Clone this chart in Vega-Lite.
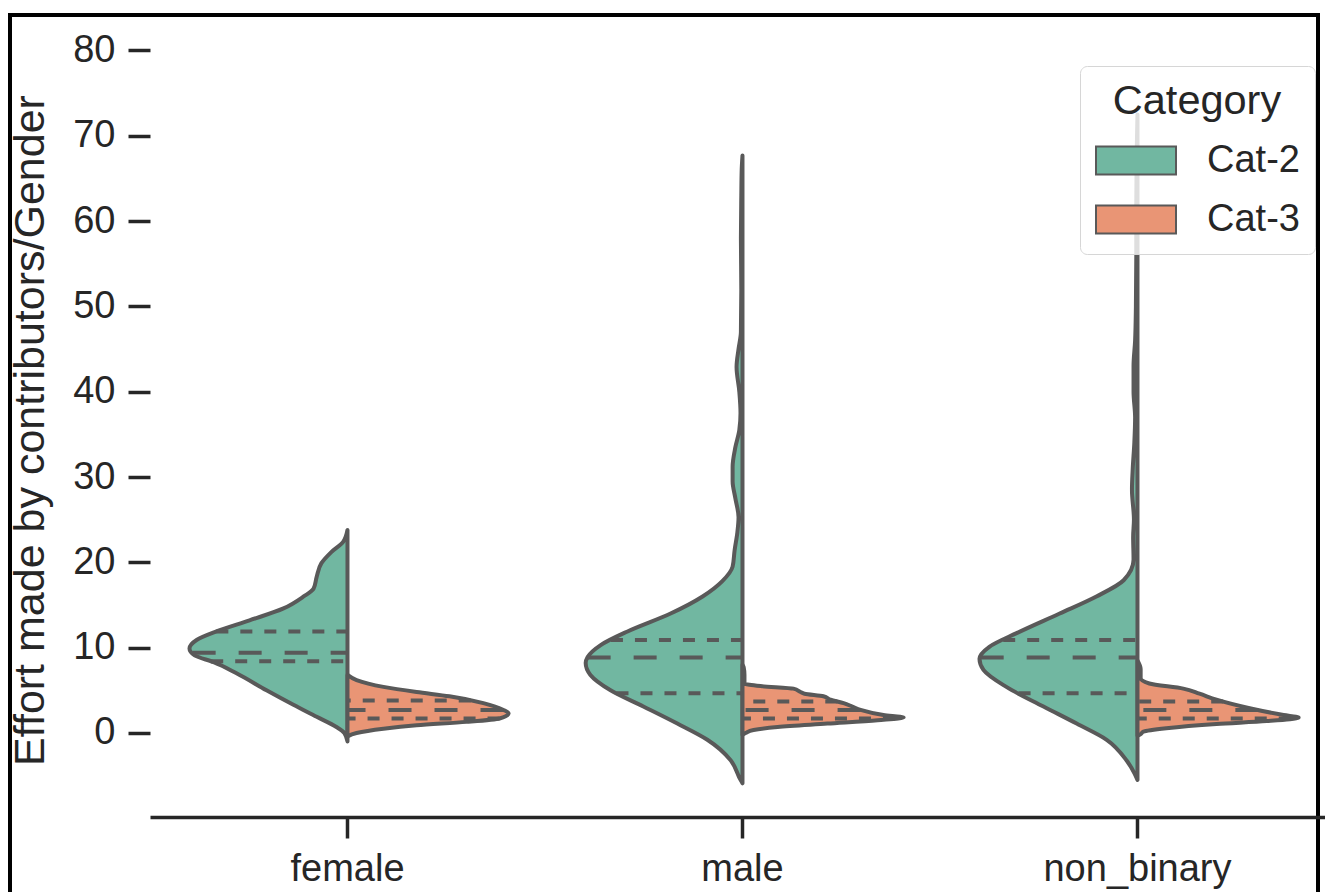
{
  "$schema": "https://vega.github.io/schema/vega-lite/v6.json",
  "width": 1308,
  "height": 885,
  "autosize": {"type": "none"},
  "padding": {"left": 10, "top": 15, "right": 7, "bottom": -8},
  "background": "#ffffff",
  "config": {
    "font": "Liberation Sans",
    "view": {"stroke": "#000000", "strokeWidth": 4},
    "axis": {"grid": false, "labelFont": "Liberation Sans", "titleFont": "Liberation Sans"},
    "legend": {"labelFont": "Liberation Sans", "titleFont": "Liberation Sans"}
  },
  "datasets": {
    "genders": [{"g": "female"}, {"g": "male"}, {"g": "non_binary"}],
    "density": [
      {"g":"female","c":"Cat-2","y":-1.0,"w":0},{"g":"female","c":"Cat-2","y":0.0,"w":-0.008},{"g":"female","c":"Cat-2","y":0.7,"w":-0.028},{"g":"female","c":"Cat-2","y":1.9,"w":-0.078},{"g":"female","c":"Cat-2","y":3.3,"w":-0.137},{"g":"female","c":"Cat-2","y":5.0,"w":-0.205},{"g":"female","c":"Cat-2","y":7.0,"w":-0.281},{"g":"female","c":"Cat-2","y":8.3,"w":-0.339},{"g":"female","c":"Cat-2","y":9.1,"w":-0.387},{"g":"female","c":"Cat-2","y":9.9,"w":-0.4},{"g":"female","c":"Cat-2","y":10.9,"w":-0.382},{"g":"female","c":"Cat-2","y":11.9,"w":-0.332},{"g":"female","c":"Cat-2","y":13.2,"w":-0.248},{"g":"female","c":"Cat-2","y":14.6,"w":-0.162},{"g":"female","c":"Cat-2","y":16.0,"w":-0.111},{"g":"female","c":"Cat-2","y":16.9,"w":-0.086},{"g":"female","c":"Cat-2","y":18.3,"w":-0.078},{"g":"female","c":"Cat-2","y":19.9,"w":-0.066},{"g":"female","c":"Cat-2","y":21.2,"w":-0.041},{"g":"female","c":"Cat-2","y":22.4,"w":-0.011},{"g":"female","c":"Cat-2","y":23.8,"w":0},
      {"g":"female","c":"Cat-3","y":-0.4,"w":0},{"g":"female","c":"Cat-3","y":0.0,"w":0.023},{"g":"female","c":"Cat-3","y":0.5,"w":0.091},{"g":"female","c":"Cat-3","y":0.9,"w":0.175},{"g":"female","c":"Cat-3","y":1.3,"w":0.301},{"g":"female","c":"Cat-3","y":1.7,"w":0.385},{"g":"female","c":"Cat-3","y":2.3,"w":0.408},{"g":"female","c":"Cat-3","y":2.7,"w":0.395},{"g":"female","c":"Cat-3","y":3.5,"w":0.344},{"g":"female","c":"Cat-3","y":4.3,"w":0.258},{"g":"female","c":"Cat-3","y":4.8,"w":0.175},{"g":"female","c":"Cat-3","y":5.4,"w":0.091},{"g":"female","c":"Cat-3","y":6.2,"w":0.023},{"g":"female","c":"Cat-3","y":6.8,"w":0},
      {"g":"male","c":"Cat-2","y":-5.9,"w":0},{"g":"male","c":"Cat-2","y":-5.5,"w":-0.005},{"g":"male","c":"Cat-2","y":-3.2,"w":-0.03},{"g":"male","c":"Cat-2","y":-0.8,"w":-0.089},{"g":"male","c":"Cat-2","y":1.1,"w":-0.165},{"g":"male","c":"Cat-2","y":3.1,"w":-0.251},{"g":"male","c":"Cat-2","y":5.0,"w":-0.334},{"g":"male","c":"Cat-2","y":6.8,"w":-0.385},{"g":"male","c":"Cat-2","y":8.2,"w":-0.397},{"g":"male","c":"Cat-2","y":8.9,"w":-0.392},{"g":"male","c":"Cat-2","y":10.3,"w":-0.359},{"g":"male","c":"Cat-2","y":11.9,"w":-0.291},{"g":"male","c":"Cat-2","y":14.0,"w":-0.182},{"g":"male","c":"Cat-2","y":16.0,"w":-0.101},{"g":"male","c":"Cat-2","y":17.8,"w":-0.051},{"g":"male","c":"Cat-2","y":19.5,"w":-0.025},{"g":"male","c":"Cat-2","y":21.4,"w":-0.02},{"g":"male","c":"Cat-2","y":23.5,"w":-0.013},{"g":"male","c":"Cat-2","y":25.3,"w":-0.01},{"g":"male","c":"Cat-2","y":27.5,"w":-0.018},{"g":"male","c":"Cat-2","y":29.5,"w":-0.025},{"g":"male","c":"Cat-2","y":31.2,"w":-0.025},{"g":"male","c":"Cat-2","y":33.5,"w":-0.018},{"g":"male","c":"Cat-2","y":35.5,"w":-0.008},{"g":"male","c":"Cat-2","y":37.5,"w":-0.005},{"g":"male","c":"Cat-2","y":40,"w":-0.008},{"g":"male","c":"Cat-2","y":42.9,"w":-0.015},{"g":"male","c":"Cat-2","y":45,"w":-0.01},{"g":"male","c":"Cat-2","y":47,"w":-0.004},{"g":"male","c":"Cat-2","y":52,"w":-0.003},{"g":"male","c":"Cat-2","y":58,"w":-0.004},{"g":"male","c":"Cat-2","y":63,"w":-0.003},{"g":"male","c":"Cat-2","y":66,"w":-0.002},{"g":"male","c":"Cat-2","y":67.7,"w":0},
      {"g":"male","c":"Cat-3","y":-0.2,"w":0},{"g":"male","c":"Cat-3","y":0.0,"w":0.008},{"g":"male","c":"Cat-3","y":0.35,"w":0.028},{"g":"male","c":"Cat-3","y":0.7,"w":0.089},{"g":"male","c":"Cat-3","y":1.1,"w":0.215},{"g":"male","c":"Cat-3","y":1.5,"w":0.342},{"g":"male","c":"Cat-3","y":1.8,"w":0.408},{"g":"male","c":"Cat-3","y":2.1,"w":0.357},{"g":"male","c":"Cat-3","y":2.7,"w":0.299},{"g":"male","c":"Cat-3","y":3.1,"w":0.278},{"g":"male","c":"Cat-3","y":3.5,"w":0.256},{"g":"male","c":"Cat-3","y":3.9,"w":0.223},{"g":"male","c":"Cat-3","y":4.3,"w":0.205},{"g":"male","c":"Cat-3","y":4.6,"w":0.157},{"g":"male","c":"Cat-3","y":4.8,"w":0.147},{"g":"male","c":"Cat-3","y":5.2,"w":0.129},{"g":"male","c":"Cat-3","y":5.5,"w":0.046},{"g":"male","c":"Cat-3","y":5.8,"w":0.005},{"g":"male","c":"Cat-3","y":6.8,"w":0.005},{"g":"male","c":"Cat-3","y":7.7,"w":0.003},{"g":"male","c":"Cat-3","y":8.0,"w":0},
      {"g":"non_binary","c":"Cat-2","y":-5.5,"w":0},{"g":"non_binary","c":"Cat-2","y":-4.7,"w":-0.008},{"g":"non_binary","c":"Cat-2","y":-3.2,"w":-0.028},{"g":"non_binary","c":"Cat-2","y":-0.8,"w":-0.078},{"g":"non_binary","c":"Cat-2","y":1.1,"w":-0.154},{"g":"non_binary","c":"Cat-2","y":3.1,"w":-0.238},{"g":"non_binary","c":"Cat-2","y":5.4,"w":-0.332},{"g":"non_binary","c":"Cat-2","y":7.4,"w":-0.39},{"g":"non_binary","c":"Cat-2","y":8.7,"w":-0.4},{"g":"non_binary","c":"Cat-2","y":10.1,"w":-0.375},{"g":"non_binary","c":"Cat-2","y":11.7,"w":-0.306},{"g":"non_binary","c":"Cat-2","y":14.0,"w":-0.197},{"g":"non_binary","c":"Cat-2","y":16.0,"w":-0.104},{"g":"non_binary","c":"Cat-2","y":17.9,"w":-0.035},{"g":"non_binary","c":"Cat-2","y":20.3,"w":-0.01},{"g":"non_binary","c":"Cat-2","y":23,"w":-0.011},{"g":"non_binary","c":"Cat-2","y":25,"w":-0.009},{"g":"non_binary","c":"Cat-2","y":28.5,"w":-0.014},{"g":"non_binary","c":"Cat-2","y":31,"w":-0.012},{"g":"non_binary","c":"Cat-2","y":34,"w":-0.008},{"g":"non_binary","c":"Cat-2","y":37,"w":-0.006},{"g":"non_binary","c":"Cat-2","y":40,"w":-0.01},{"g":"non_binary","c":"Cat-2","y":43,"w":-0.01},{"g":"non_binary","c":"Cat-2","y":46,"w":-0.006},{"g":"non_binary","c":"Cat-2","y":50,"w":-0.004},{"g":"non_binary","c":"Cat-2","y":56,"w":-0.003},{"g":"non_binary","c":"Cat-2","y":62,"w":-0.003},{"g":"non_binary","c":"Cat-2","y":68,"w":-0.002},{"g":"non_binary","c":"Cat-2","y":72.5,"w":0},
      {"g":"non_binary","c":"Cat-3","y":-0.3,"w":0},{"g":"non_binary","c":"Cat-3","y":-0.2,"w":0.006},{"g":"non_binary","c":"Cat-3","y":0.15,"w":0.015},{"g":"non_binary","c":"Cat-3","y":0.55,"w":0.073},{"g":"non_binary","c":"Cat-3","y":1.05,"w":0.2},{"g":"non_binary","c":"Cat-3","y":1.4,"w":0.327},{"g":"non_binary","c":"Cat-3","y":1.8,"w":0.408},{"g":"non_binary","c":"Cat-3","y":2.1,"w":0.37},{"g":"non_binary","c":"Cat-3","y":2.9,"w":0.284},{"g":"non_binary","c":"Cat-3","y":3.9,"w":0.2},{"g":"non_binary","c":"Cat-3","y":4.6,"w":0.157},{"g":"non_binary","c":"Cat-3","y":5.2,"w":0.116},{"g":"non_binary","c":"Cat-3","y":5.8,"w":0.03},{"g":"non_binary","c":"Cat-3","y":6.4,"w":0.008},{"g":"non_binary","c":"Cat-3","y":7.5,"w":0.008},{"g":"non_binary","c":"Cat-3","y":8.5,"w":0}
    ],
    "quart": [
      {"g":"female","c":"Cat-2","stat":"q25","y":8.4,"w":-0.345},{"g":"female","c":"Cat-2","stat":"median","y":9.4,"w":-0.392},{"g":"female","c":"Cat-2","stat":"q75","y":11.9,"w":-0.332},
      {"g":"female","c":"Cat-3","stat":"q25","y":1.7,"w":0.385},{"g":"female","c":"Cat-3","stat":"median","y":2.7,"w":0.395},{"g":"female","c":"Cat-3","stat":"q75","y":3.8,"w":0.312},
      {"g":"male","c":"Cat-2","stat":"q25","y":4.65,"w":-0.319},{"g":"male","c":"Cat-2","stat":"median","y":8.85,"w":-0.392},{"g":"male","c":"Cat-2","stat":"q75","y":10.9,"w":-0.333},
      {"g":"male","c":"Cat-3","stat":"q25","y":1.7,"w":0.386},{"g":"male","c":"Cat-3","stat":"median","y":2.7,"w":0.299},{"g":"male","c":"Cat-3","stat":"q75","y":3.7,"w":0.24},
      {"g":"non_binary","c":"Cat-2","stat":"q25","y":4.65,"w":-0.301},{"g":"non_binary","c":"Cat-2","stat":"median","y":8.85,"w":-0.397},{"g":"non_binary","c":"Cat-2","stat":"q75","y":10.9,"w":-0.34},
      {"g":"non_binary","c":"Cat-3","stat":"q25","y":1.7,"w":0.388},{"g":"non_binary","c":"Cat-3","stat":"median","y":2.7,"w":0.306},{"g":"non_binary","c":"Cat-3","stat":"q75","y":3.7,"w":0.217}
    ]
  },
  "layer": [
    {
      "data": {"name": "genders"},
      "mark": {"type": "point", "opacity": 0},
      "encoding": {
        "x": {"field": "g", "type": "nominal", "sort": ["female", "male", "non_binary"],
          "scale": {"type": "band", "range": [140, 1325], "paddingInner": 0, "paddingOuter": 0},
          "axis": {"title": null, "orient": "bottom", "offset": -83, "bandPosition": 0.5, "labelAngle": 0, "labelLimit": 0, "labelFontSize": 38, "labelColor": "#262626", "labelPadding": 12, "tickSize": 21, "tickWidth": 3.5, "tickColor": "#262626", "domainColor": "#262626", "domainWidth": 3.5}}
      }
    },
    {
      "encoding": {
        "x": {"field": "w", "type": "quantitative", "stack": null, "scale": {"domain": [-0.8544, 2.457], "nice": false, "zero": false}, "axis": null},
        "y": {"field": "y", "type": "quantitative", "scale": {"domain": [-19.58, 84.16], "nice": false, "zero": false},
          "axis": {"values": [0,10,20,30,40,50,60,70,80], "offset": -140, "domain": false, "grid": false, "tickSize": 22, "tickWidth": 3.5, "tickColor": "#262626", "labelFontSize": 38, "labelColor": "#262626", "labelPadding": 13, "title": "Effort made by contributors/Gender", "titleFontSize": 43, "titleFontWeight": "normal", "titleColor": "#262626", "titleX": -107, "titleY": 415, "titleAngle": 270, "titleAlign": "center", "titleBaseline": "alphabetic"}}
      },
      "layer": [
        {"data": {"name": "density"}, "transform": [{"filter": "datum.g === 'female'"}],
          "mark": {"type": "area", "orient": "horizontal", "interpolate": "monotone", "stroke": "#595959", "strokeWidth": 4, "strokeJoin": "round", "opacity": 1},
          "encoding": {"x2": {"datum": 0},
            "color": {"field": "c", "type": "nominal", "title": "Category", "scale": {"domain": ["Cat-2", "Cat-3"], "range": ["#71b7a1", "#e99575"]},
              "legend": {"orient": "none", "legendX": 1070, "legendY": 51, "titleFontSize": 41.5, "titleFontWeight": "normal", "titleColor": "#262626", "titleAnchor": "middle", "titlePadding": 17, "labelFontSize": 38, "labelColor": "#262626", "labelOffset": 70, "symbolType": "M-1,-0.7L3,-0.7L3,0.7L-1,0.7Z", "symbolSize": 1600, "symbolStrokeColor": "#595959", "symbolStrokeWidth": 2, "symbolOpacity": 1, "rowPadding": 19, "padding": 15, "strokeColor": "#d6d6d6", "fillColor": "rgba(255,255,255,0.8)", "cornerRadius": 7}}}},
        {"data": {"name": "quart"}, "transform": [{"filter": "datum.g === 'female'"}],
          "mark": {"type": "rule", "stroke": "#595959", "strokeWidth": 4},
          "encoding": {"x2": {"datum": 0},
            "strokeDash": {"field": "stat", "type": "nominal", "scale": {"domain": ["q25", "median", "q75"], "range": [[12, 12], [23, 23], [12, 12]]}, "legend": null}}}
      ]
    },
    {
      "encoding": {
        "x": {"field": "w", "type": "quantitative", "stack": null, "scale": {"domain": [-1.8544, 1.457], "nice": false, "zero": false}, "axis": null},
        "y": {"field": "y", "type": "quantitative", "scale": {"domain": [-19.58, 84.16], "nice": false, "zero": false},
          "axis": {"values": [0,10,20,30,40,50,60,70,80], "offset": -140, "domain": false, "grid": false, "tickSize": 22, "tickWidth": 3.5, "tickColor": "#262626", "labelFontSize": 38, "labelColor": "#262626", "labelPadding": 13, "title": "Effort made by contributors/Gender", "titleFontSize": 43, "titleFontWeight": "normal", "titleColor": "#262626", "titleX": -107, "titleY": 415, "titleAngle": 270, "titleAlign": "center", "titleBaseline": "alphabetic"}}
      },
      "layer": [
        {"data": {"name": "density"}, "transform": [{"filter": "datum.g === 'male'"}],
          "mark": {"type": "area", "orient": "horizontal", "interpolate": "monotone", "stroke": "#595959", "strokeWidth": 4, "strokeJoin": "round", "opacity": 1},
          "encoding": {"x2": {"datum": 0},
            "color": {"field": "c", "type": "nominal", "title": "Category", "scale": {"domain": ["Cat-2", "Cat-3"], "range": ["#71b7a1", "#e99575"]},
              "legend": {"orient": "none", "legendX": 1070, "legendY": 51, "titleFontSize": 41.5, "titleFontWeight": "normal", "titleColor": "#262626", "titleAnchor": "middle", "titlePadding": 17, "labelFontSize": 38, "labelColor": "#262626", "labelOffset": 70, "symbolType": "M-1,-0.7L3,-0.7L3,0.7L-1,0.7Z", "symbolSize": 1600, "symbolStrokeColor": "#595959", "symbolStrokeWidth": 2, "symbolOpacity": 1, "rowPadding": 19, "padding": 15, "strokeColor": "#d6d6d6", "fillColor": "rgba(255,255,255,0.8)", "cornerRadius": 7}}}},
        {"data": {"name": "quart"}, "transform": [{"filter": "datum.g === 'male'"}],
          "mark": {"type": "rule", "stroke": "#595959", "strokeWidth": 4},
          "encoding": {"x2": {"datum": 0},
            "strokeDash": {"field": "stat", "type": "nominal", "scale": {"domain": ["q25", "median", "q75"], "range": [[12, 12], [23, 23], [12, 12]]}, "legend": null}}}
      ]
    },
    {
      "encoding": {
        "x": {"field": "w", "type": "quantitative", "stack": null, "scale": {"domain": [-2.8544, 0.457], "nice": false, "zero": false}, "axis": null},
        "y": {"field": "y", "type": "quantitative", "scale": {"domain": [-19.58, 84.16], "nice": false, "zero": false},
          "axis": {"values": [0,10,20,30,40,50,60,70,80], "offset": -140, "domain": false, "grid": false, "tickSize": 22, "tickWidth": 3.5, "tickColor": "#262626", "labelFontSize": 38, "labelColor": "#262626", "labelPadding": 13, "title": "Effort made by contributors/Gender", "titleFontSize": 43, "titleFontWeight": "normal", "titleColor": "#262626", "titleX": -107, "titleY": 415, "titleAngle": 270, "titleAlign": "center", "titleBaseline": "alphabetic"}}
      },
      "layer": [
        {"data": {"name": "density"}, "transform": [{"filter": "datum.g === 'non_binary'"}],
          "mark": {"type": "area", "orient": "horizontal", "interpolate": "monotone", "stroke": "#595959", "strokeWidth": 4, "strokeJoin": "round", "opacity": 1},
          "encoding": {"x2": {"datum": 0},
            "color": {"field": "c", "type": "nominal", "title": "Category", "scale": {"domain": ["Cat-2", "Cat-3"], "range": ["#71b7a1", "#e99575"]},
              "legend": {"orient": "none", "legendX": 1070, "legendY": 51, "titleFontSize": 41.5, "titleFontWeight": "normal", "titleColor": "#262626", "titleAnchor": "middle", "titlePadding": 17, "labelFontSize": 38, "labelColor": "#262626", "labelOffset": 70, "symbolType": "M-1,-0.7L3,-0.7L3,0.7L-1,0.7Z", "symbolSize": 1600, "symbolStrokeColor": "#595959", "symbolStrokeWidth": 2, "symbolOpacity": 1, "rowPadding": 19, "padding": 15, "strokeColor": "#d6d6d6", "fillColor": "rgba(255,255,255,0.8)", "cornerRadius": 7}}}},
        {"data": {"name": "quart"}, "transform": [{"filter": "datum.g === 'non_binary'"}],
          "mark": {"type": "rule", "stroke": "#595959", "strokeWidth": 4},
          "encoding": {"x2": {"datum": 0},
            "strokeDash": {"field": "stat", "type": "nominal", "scale": {"domain": ["q25", "median", "q75"], "range": [[12, 12], [23, 23], [12, 12]]}, "legend": null}}}
      ]
    }
  ],
  "resolve": {"scale": {"x": "independent"}, "axis": {"x": "independent"}}
}
